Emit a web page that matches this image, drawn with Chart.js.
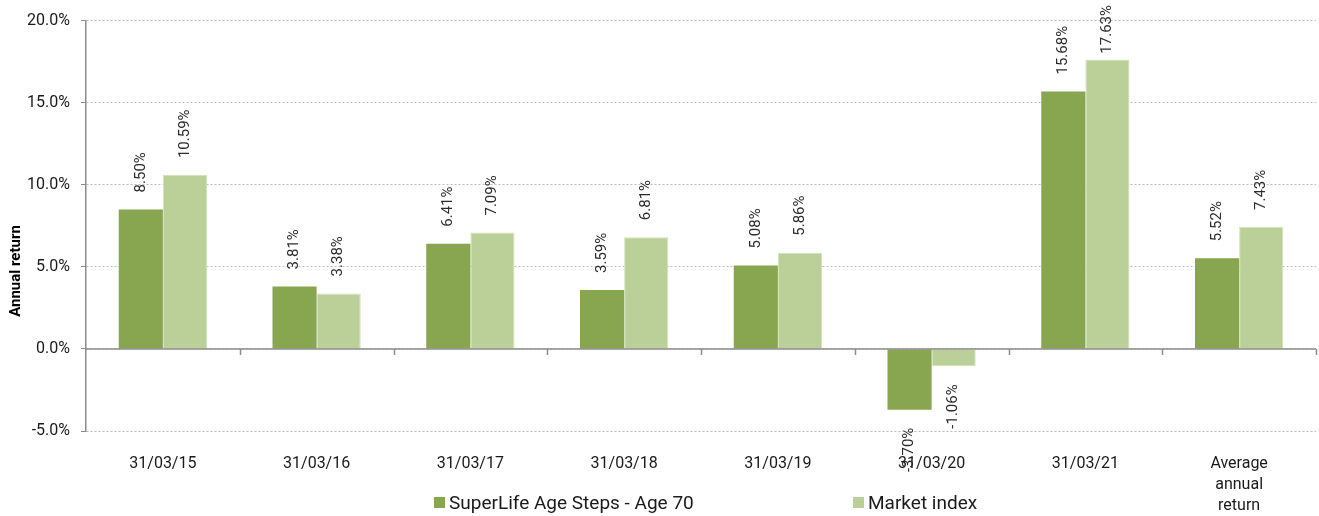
<!DOCTYPE html>
<html>
<head>
<meta charset="utf-8">
<script src="https://cdn.jsdelivr.net/npm/chart.js@4/dist/chart.umd.min.js"></script>
<style>
html,body{margin:0;padding:0;background:#fff;}
#wrap{width:1319px;height:516px;position:relative;}
</style>
</head>
<body>
<div id="wrap"><canvas id="c" width="1319" height="516"></canvas></div>
<script>
const categories = ['31/03/15','31/03/16','31/03/17','31/03/18','31/03/19','31/03/20','31/03/21',['Average','annual','return']];
const superLife = [8.50, 3.81, 6.41, 3.59, 5.08, -3.70, 15.68, 5.52];
const marketIndex = [10.59, 3.38, 7.09, 6.81, 5.86, -1.06, 17.63, 7.43];
const seriesNames = ['SuperLife Age Steps - Age 70', 'Market index'];
const yTicks = [-5, 0, 5, 10, 15, 20];
const yTitle = 'Annual return';

const FONT = 'Roboto, sans-serif';

const labelPlugin = {
  id: 'barLabels',
  afterDatasetsDraw(chart) {
    const ctx = chart.ctx;
    ctx.save();
    ctx.font = '15px ' + FONT;
    ctx.fillStyle = '#2b2b2b';
    ctx.textBaseline = 'middle';
    chart.data.datasets.forEach((ds, di) => {
      const meta = chart.getDatasetMeta(di);
      meta.data.forEach((bar, i) => {
        const v = ds.data[i];
        const txt = v.toFixed(2) + '%';
        const w = ctx.measureText(txt).width;
        ctx.save();
        if (v >= 0) {
          const ay = Math.max(bar.y - 17, w + 5);
          ctx.translate(bar.x, ay);
          ctx.rotate(-Math.PI / 2);
          ctx.textAlign = 'left';
        } else {
          ctx.translate(bar.x, bar.y + 18);
          ctx.rotate(-Math.PI / 2);
          ctx.textAlign = 'right';
        }
        ctx.fillText(txt, 0, 0);
        ctx.restore();
      });
    });
    ctx.restore();
  }
};

const zeroLinePlugin = {
  id: 'zeroLine',
  afterDatasetsDraw(chart) {
    const ctx = chart.ctx;
    const y = chart.scales.y.getPixelForValue(0);
    const xs = chart.scales.x;
    const area = chart.chartArea;
    ctx.save();
    ctx.strokeStyle = '#8c8c8c';
    ctx.lineWidth = 1.5;
    ctx.beginPath();
    ctx.moveTo(area.left, y);
    ctx.lineTo(area.right, y);
    const n = chart.data.labels.length;
    const step = xs.getPixelForValue(1) - xs.getPixelForValue(0);
    for (let i = 1; i <= n; i++) {
      const x = i < n ? xs.getPixelForValue(i) - step / 2 : area.right;
      ctx.moveTo(Math.round(x) + 0.5, y);
      ctx.lineTo(Math.round(x) + 0.5, y + 6);
    }
    ctx.stroke();
    ctx.restore();
  }
};

const textPlugin = {
  id: 'legendAndTitle',
  afterDraw(chart) {
    const ctx = chart.ctx;
    ctx.save();
    ctx.font = '19px ' + FONT;
    ctx.textBaseline = 'middle';
    ctx.textAlign = 'left';
    const starts = [434, 853];
    const y = 503;
    chart.data.datasets.forEach((ds, i) => {
      ctx.fillStyle = ds.backgroundColor;
      ctx.fillRect(starts[i], y - 6, 11, 11);
      ctx.fillStyle = '#1a1a1a';
      ctx.fillText(ds.label, starts[i] + 15, y + 1);
    });
    // y-axis title
    ctx.font = 'bold 15px ' + FONT;
    ctx.fillStyle = '#000';
    ctx.textAlign = 'center';
    ctx.translate(16, 271);
    ctx.rotate(-Math.PI / 2);
    ctx.fillText(yTitle, 0, 0);
    ctx.restore();
  }
};

new Chart(document.getElementById('c'), {
  type: 'bar',
  data: {
    labels: categories,
    datasets: [
      { label: seriesNames[0], data: superLife, backgroundColor: '#88A54F', borderWidth: 0,
        categoryPercentage: 0.574, barPercentage: 1.0 },
      { label: seriesNames[1], data: marketIndex, backgroundColor: '#BBD098', borderColor: '#D3E2B8', borderWidth: 1,
        categoryPercentage: 0.574, barPercentage: 1.0 }
    ]
  },
  options: {
    responsive: false,
    animation: false,
    devicePixelRatio: 1,
    layout: { padding: { top: 10, right: 3, bottom: 0, left: 0 } },
    plugins: {
      legend: { display: false },
      tooltip: { enabled: false }
    },
    scales: {
      x: {
        grid: { display: false },
        border: { display: false },
        ticks: {
          font: { family: FONT, size: 16, lineHeight: 1.3 },
          color: '#1a1a1a',
          maxRotation: 0,
          autoSkip: false,
          padding: 15
        },
        afterFit(s) { s.height = 85; }
      },
      y: {
        min: -5,
        max: 20,
        afterBuildTicks(s) { s.ticks = yTicks.map(v => ({ value: v })); },
        ticks: {
          font: { family: FONT, size: 16 },
          color: '#1a1a1a',
          padding: 11,
          callback: v => v.toFixed(1) + '%'
        },
        grid: {
          color: '#bdbdbd',
          lineWidth: 1,
          tickLength: 5,
          tickColor: '#8c8c8c',
          drawTicks: true
        },
        border: {
          display: true,
          color: '#8c8c8c',
          width: 1.5,
          dash: (c) => (c && c.type === 'tick') ? [2, 2] : []
        },
        title: { display: false },
        afterFit(s) { s.width = 86; }
      }
    }
  },
  plugins: [labelPlugin, zeroLinePlugin, textPlugin]
});
</script>
</body>
</html>
